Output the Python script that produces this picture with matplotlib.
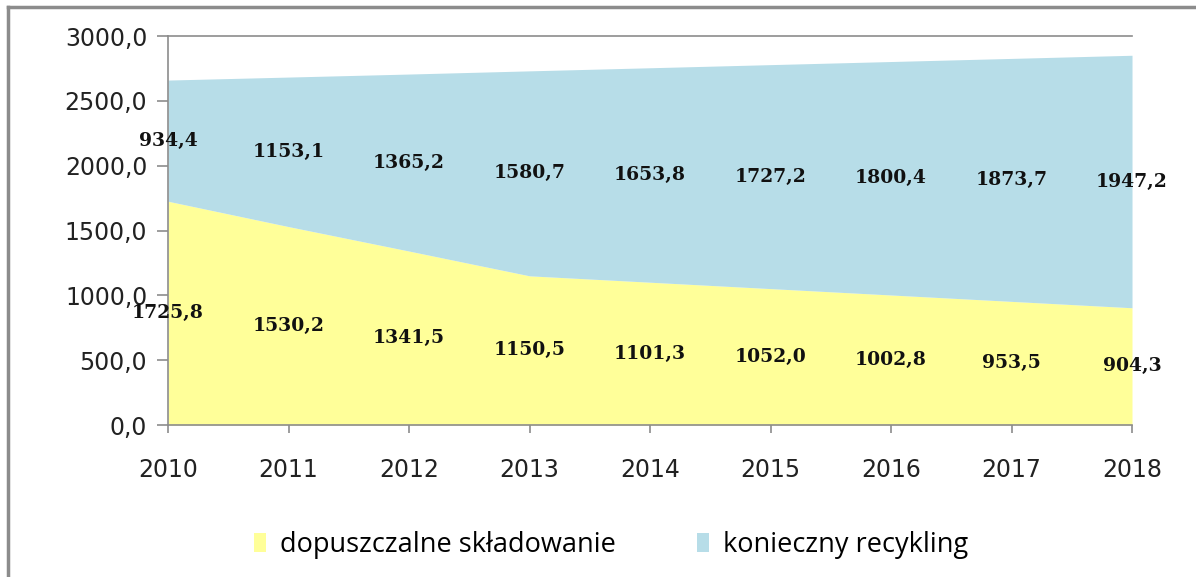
import numpy as np
import matplotlib.pyplot as plt
from matplotlib.lines import Line2D
from matplotlib.patches import Patch

years = ["2010", "2011", "2012", "2013", "2014", "2015", "2016", "2017", "2018"]
skladowanie = [1725.8, 1530.2, 1341.5, 1150.5, 1101.3, 1052.0, 1002.8, 953.5, 904.3]
recykling = [934.4, 1153.1, 1365.2, 1580.7, 1653.8, 1727.2, 1800.4, 1873.7, 1947.2]
labels_legend = ["dopuszczalne składowanie", "konieczny recykling"]
yticks = [0, 500, 1000, 1500, 2000, 2500, 3000]

c_yellow = "#FFFF99"
c_blue = "#B7DDE8"
c_axis = "#8C8C8C"


def fmt(v):
    return f"{v:.1f}".replace(".", ",")


fig = plt.figure(figsize=(11.96, 5.77), dpi=100)
ax = fig.add_axes([0.1405, 0.2634, 0.806, 0.6742])

x = np.arange(len(years))
low = np.array(skladowanie)
high = low + np.array(recykling)
ax.fill_between(x, 0, low, color=c_yellow, lw=0)
ax.fill_between(x, low, high, color=c_blue, lw=0)

# data labels, centred in each band
for i in range(len(years)):
    ax.text(x[i], low[i] / 2, fmt(low[i]), ha="center", va="center",
            fontsize=13.5, fontweight="bold", family="DejaVu Serif", color="#111111")
    ax.text(x[i], (low[i] + high[i]) / 2, fmt(recykling[i]), ha="center", va="center",
            fontsize=13.5, fontweight="bold", family="DejaVu Serif", color="#111111")

ax.set_xlim(0, len(years) - 1)
ax.set_ylim(0, 3000)
ax.set_xticks(x)
ax.set_xticklabels(years, family="DejaVu Sans", fontsize=17, color="#222222")
ax.set_yticks(yticks)
ax.set_yticklabels([fmt(v) for v in yticks], family="DejaVu Sans", fontsize=17, color="#222222")
ax.axhline(3000, color=c_axis, lw=1.2, clip_on=False)

for s in ["top", "right"]:
    ax.spines[s].set_visible(False)
for s in ["left", "bottom"]:
    ax.spines[s].set_color(c_axis)
    ax.spines[s].set_linewidth(1.2)
ax.tick_params(axis="y", length=8, width=1.2, color=c_axis, pad=7)
ax.tick_params(axis="x", length=6, width=1.2, color=c_axis, pad=18)

handles = [Patch(facecolor=c_yellow, edgecolor="none"), Patch(facecolor=c_blue, edgecolor="none")]
fig.legend(handles, labels_legend, loc="center", bbox_to_anchor=(0.511, 0.055),
           ncol=2, frameon=False, prop={"family": "Open Sans", "size": 19.5},
           handlelength=0.45, handleheight=0.7, handletextpad=0.5, columnspacing=3.0)

# outer frame (left and top edges visible)
fig.add_artist(Line2D([0.0065, 0.0065], [0, 0.988], transform=fig.transFigure, color=c_axis, lw=2.5))
fig.add_artist(Line2D([0.0065, 1], [0.988, 0.988], transform=fig.transFigure, color=c_axis, lw=2.5))

fig.savefig("out.png", dpi=100)
